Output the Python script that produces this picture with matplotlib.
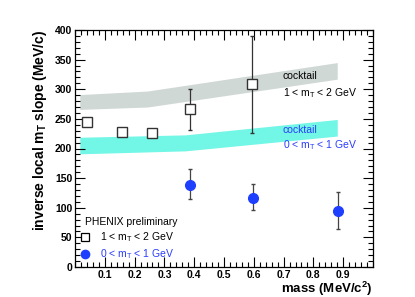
import numpy as np
import matplotlib
matplotlib.use("Agg")
import matplotlib.pyplot as plt
from matplotlib.ticker import MultipleLocator

plt.rcParams['font.family'] = ['Liberation Sans', 'DejaVu Sans']
plt.rcParams['mathtext.fontset'] = 'custom'
plt.rcParams['mathtext.rm'] = 'Liberation Sans'
plt.rcParams['mathtext.bf'] = 'Liberation Sans:bold'

# data: 1 < mT < 2 GeV (open squares)
mass_hi = [0.04, 0.157, 0.257, 0.386, 0.595]
slope_hi = [245, 228, 227, 267, 309]
err_hi_lo = [0, 0, 0, 36, 83]
err_hi_up = [0, 0, 0, 34, 81]

# data: 0 < mT < 1 GeV (filled circles)
mass_lo = [0.386, 0.597, 0.884]
slope_lo = [138, 116, 94]
err_lo_lo = [24, 20, 30]
err_lo_up = [27, 24, 33]

# cocktail bands
band_x = [0.016, 0.243, 0.88]
gray_low = [266, 270, 317]
gray_up = [291, 297, 345]
cyan_x = [0.016, 0.37, 0.88]
cyan_low = [191, 196, 221]
cyan_up = [219, 223, 249]

fig = plt.figure(figsize=(4.15, 2.97), dpi=100)
ax = fig.add_axes([75/415, 1 - 267/297, 298/415, 237/297])

ax.fill_between(band_x, gray_low, gray_up, color='#d0d8d6', lw=0)
ax.fill_between(cyan_x, cyan_low, cyan_up, color='#72f6e6', lw=0)

ax.errorbar(mass_hi, slope_hi, yerr=[err_hi_lo, err_hi_up], fmt='s', mfc='white',
            mec='#333333', mew=1.0, ms=7, ecolor='#333333', elinewidth=0.9,
            capsize=1.5, zorder=3)
ax.errorbar(mass_lo, slope_lo, yerr=[err_lo_lo, err_lo_up], fmt='o', mfc='#1f3fff',
            mec='#1f3fff', ms=7, ecolor='#444444', elinewidth=0.9,
            capsize=1.5, zorder=3)

ax.text(0.697, 322, 'cocktail', fontsize=7.5, color='black', va='center')
ax.text(0.697, 294, r'1 < m$_\mathregular{T}$ < 2 GeV', fontsize=7.5, color='black', va='center')
ax.text(0.697, 232, 'cocktail', fontsize=7.5, color='#2a3cff', va='center')
ax.text(0.697, 205, r'0 < m$_\mathregular{T}$ < 1 GeV', fontsize=7.5, color='#2a3cff', va='center')

ax.text(0.035, 76, 'PHENIX preliminary', fontsize=7.5, va='center')
ax.plot([0.035], [50], 's', mfc='white', mec='black', ms=6, mew=0.9)
ax.text(0.083, 50, r'1 < m$_\mathregular{T}$ < 2 GeV', fontsize=7.5, va='center')
ax.plot([0.035], [22], 'o', mfc='#1f3fff', mec='#1f3fff', ms=6)
ax.text(0.083, 22, r'0 < m$_\mathregular{T}$ < 1 GeV', fontsize=7.5, va='center', color='#2a3cff')

ax.set_xlim(0, 1)
ax.set_ylim(0, 400)
ax.xaxis.set_minor_locator(MultipleLocator(0.02))
ax.yaxis.set_major_locator(MultipleLocator(50))
ax.yaxis.set_minor_locator(MultipleLocator(10))
ax.set_xticks(np.arange(0.1, 0.95, 0.1))
ax.set_xticklabels(['0.1', '0.2', '0.3', '0.4', '0.5', '0.6', '0.7', '0.8', '0.9'])
ax.tick_params(which='both', direction='in', top=True, right=True, labelsize=7.5, width=0.8, pad=2)
ax.tick_params(which='major', length=7)
ax.tick_params(which='minor', length=3.5)
for lab in ax.get_xticklabels() + ax.get_yticklabels():
    lab.set_fontweight('bold')
for s in ax.spines.values():
    s.set_linewidth(0.9)

ax.set_ylabel(r'inverse local m$_\mathbf{T}$ slope (MeV/c)', fontsize=10,
              fontweight='bold', loc='top', labelpad=4)
ax.set_xlabel(r'mass (MeV/c$^\mathbf{2}$)', fontsize=9.5, fontweight='bold',
              loc='right', labelpad=0)

fig.savefig('out.png', dpi=100)
